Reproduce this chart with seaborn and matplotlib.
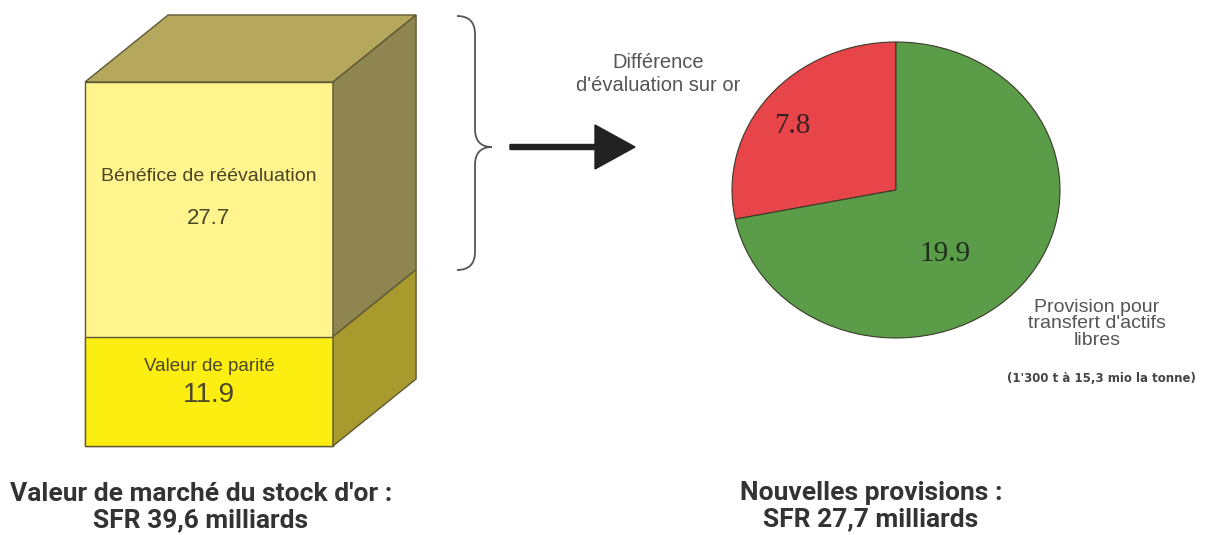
import matplotlib
matplotlib.use("Agg")
import matplotlib.pyplot as plt
from matplotlib.patches import Polygon, FancyArrow
from matplotlib.path import Path
from matplotlib.patches import PathPatch
import seaborn as sns
import pandas as pd

sns.set_theme(style="white")
plt.rcParams["font.family"] = ["Liberation Sans", "DejaVu Sans"]

# Gold stock at market value (billions SFR)
stock_parts = ["Valeur de parité", "Bénéfice de réévaluation"]
stock_values = [11.9, 27.7]
stock_total_label = "Valeur de marché du stock d'or :\nSFR 39,6 milliards"

# New provisions (billions SFR)
prov_parts = ["Différence\nd'évaluation sur or", "Provision pour\ntransfert d'actifs\nlibres"]
prov_values = [7.8, 19.9]
prov_total_label = "Nouvelles provisions :\nSFR 27,7 milliards"
prov_note = "(1'300 t à 15,3 mio la tonne)"

W, H = 1206, 535
fig = plt.figure(figsize=(W / 100, H / 100), dpi=100)
fig.patch.set_facecolor("white")


def px_axes(x0, y0, x1, y1):
    """Axes placed by pixel box (top-left origin)."""
    return fig.add_axes([x0 / W, 1 - y1 / H, (x1 - x0) / W, (y1 - y0) / H])


# ---------------- 3D stacked block ----------------
ax = px_axes(85, 8, 422, 446)
parity, reval = stock_values
total = parity + reval
df = pd.DataFrame({"cat": ["or", "or"], "part": stock_parts,
                   "height": [total, parity]})
edge = "#5e5a36"
sns.barplot(data=df.iloc[[0]], x="cat", y="height", width=1.0, ax=ax,
            color="#fff48e", saturation=1, edgecolor=edge, linewidth=1.0)
sns.barplot(data=df.iloc[[1]], x="cat", y="height", width=1.0, ax=ax,
            color="#fdee12", saturation=1, edgecolor=edge, linewidth=1.0)
for p in ax.patches:
    p.set_clip_on(False)

dx, dy = 0.335, 7.29
ymax = total * (446 - 8) / (446 - 82)
ax.set_xlim(-0.5, (422 - 333) / 248 + 0.5)
ax.set_ylim(0, ymax)

faces = [
    ([(-0.5, total), (0.5, total), (0.5 + dx, total + dy), (-0.5 + dx, total + dy)], "#b5a75c"),
    ([(0.5, parity), (0.5, total), (0.5 + dx, total + dy), (0.5 + dx, parity + dy)], "#8f8551"),
    ([(0.5, 0), (0.5, parity), (0.5 + dx, parity + dy), (0.5 + dx, dy)], "#a89a2c"),
]
for pts, col in faces:
    ax.add_patch(Polygon(pts, closed=True, facecolor=col, edgecolor=edge,
                         linewidth=1.0, zorder=3, clip_on=False))
ax.axis("off")

txt = "#4a4626"
ax.text(0, parity + reval * 0.63, stock_parts[1], ha="center", va="center",
        fontsize=14, color=txt)
ax.text(0, parity + reval * 0.465, f"{reval:.1f}", ha="center", va="center",
        fontsize=16, color=txt)
ax.text(0, parity * 0.73, stock_parts[0], ha="center", va="center",
        fontsize=13.5, color=txt)
ax.text(0, parity * 0.47, f"{parity:.1f}", ha="center", va="center",
        fontsize=20, color=txt)

# ---------------- brace + arrow ----------------
axm = px_axes(0, 0, W, H)
axm.set_xlim(0, W)
axm.set_ylim(H, 0)
axm.axis("off")

x0, xm, xt = 457, 475, 492
y0, yc, y1 = 16, 147, 270
verts = [(x0, y0), (xm, y0), (xm, y0 + 18),
         (xm, yc - 18), (xm, yc), (xt, yc),
         (xm, yc), (xm, yc + 18),
         (xm, y1 - 18), (xm, y1), (x0, y1)]
codes = [Path.MOVETO, Path.CURVE3, Path.CURVE3,
         Path.LINETO, Path.CURVE3, Path.CURVE3,
         Path.CURVE3, Path.CURVE3,
         Path.LINETO, Path.CURVE3, Path.CURVE3]
axm.add_patch(PathPatch(Path(verts, codes), facecolor="none",
                        edgecolor="#555555", linewidth=1.3))
axm.add_patch(FancyArrow(510, 147, 125, 0, width=5, head_width=44,
                         head_length=40, length_includes_head=True,
                         color="#222222"))

# ---------------- pie ----------------
axp = px_axes(732, 42, 1060, 338)
wedges, _ = axp.pie(prov_values, colors=["#e8454b", "#5b9c48"], startangle=90,
                    counterclock=True,
                    wedgeprops=dict(edgecolor="#3a3a2a", linewidth=0.8))
axp.set_aspect("auto")
axp.set_xlim(-1, 1)
axp.set_ylim(-1, 1)
serif = ["Liberation Serif", "DejaVu Serif"]
axp.text(-0.63, 0.43, f"{prov_values[0]:.1f}", ha="center", va="center",
         fontsize=21, family=serif, color="#3a2020")
axp.text(0.30, -0.43, f"{prov_values[1]:.1f}", ha="center", va="center",
         fontsize=21, family=serif, color="#1e2e1a")

axm.text(658, 74, prov_parts[0], ha="center", va="center", fontsize=14.5,
         color="#555555", linespacing=1.3)
axm.text(1097, 324, prov_parts[1], ha="center", va="center", fontsize=14,
         color="#555555", linespacing=0.95)
axm.text(1101, 378, prov_note, ha="center", va="center", fontsize=8.5,
         fontweight="bold", family=["DejaVu Sans"], color="#444444")

# ---------------- bottom captions ----------------
cap_font = ["Roboto", "DejaVu Sans"]
axm.text(201, 507, stock_total_label, ha="center", va="center", fontsize=19,
         fontweight="bold", family=cap_font, color="#333333", linespacing=1.1)
axm.text(871, 506, prov_total_label, ha="center", va="center", fontsize=19,
         fontweight="bold", family=cap_font, color="#333333", linespacing=1.1)

fig.savefig("out.png", dpi=100, facecolor="white")
